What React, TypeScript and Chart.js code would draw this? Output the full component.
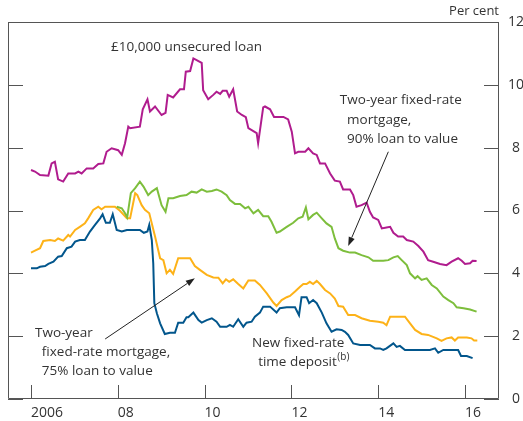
import React, { useEffect, useRef } from 'react';
import { Chart, registerables } from 'chart.js';

Chart.register(...registerables);

// x values are months since January 2006
const xTickMonths = [0, 24, 48, 72, 96, 120];
const xTickLabels = ['2006', '08', '10', '12', '14', '16'];
const yTickValues = [0, 2, 4, 6, 8, 10, 12];

const unsecuredMonths = [0,1.1,2.5,4.8,5.7,6.6,7.5,8.9,10.3,12.2,13.1,14.0,15.4,17.2,18.6,20.0,20.9,22.3,24.1,25.1,26.0,26.9,27.4,30.1,30.9,32.2,32.9,34.3,36.1,37.2,37.8,39.3,41.2,42.3,42.8,44.0,44.9,45.8,47.2,47.6,49.0,50.4,51.3,52.3,53.0,54.1,54.8,55.9,57.0,58.3,59.4,60.1,62.4,62.8,64.2,64.7,66.1,67.2,69.8,71.1,72.1,73.0,73.9,75.8,76.7,78.0,79.0,79.9,81.3,82.7,84.0,85.4,86.3,88.2,89.1,90.0,91.4,92.8,93.7,94.6,96.0,97.0,98.3,99.3,100.2,101.5,102.9,103.9,105.7,107.1,108.5,109.8,111.2,113.1,114.9,116.3,118.1,119.1,120.0,121.4,122.1,123.2];
const unsecuredRates = [7.29,7.24,7.13,7.11,7.50,7.55,6.99,6.92,7.18,7.18,7.24,7.18,7.34,7.34,7.48,7.50,7.87,7.98,7.92,7.77,8.14,8.67,8.62,8.67,9.22,9.54,9.15,9.31,9.04,9.11,9.68,9.60,9.86,9.86,10.42,10.44,10.84,10.79,10.70,9.83,9.54,9.68,9.78,9.71,9.81,9.81,9.62,9.86,9.15,9.04,8.97,8.62,8.46,8.14,9.28,9.31,9.22,8.98,8.98,8.90,8.51,7.82,7.87,7.87,7.98,7.82,7.77,7.50,7.50,7.18,6.95,6.92,6.67,6.67,6.49,6.12,6.17,6.25,5.96,5.78,5.70,5.43,5.46,5.48,5.29,5.17,5.17,5.06,5.01,4.87,4.69,4.42,4.37,4.30,4.26,4.37,4.48,4.40,4.30,4.32,4.40,4.39];

const mort90Months = [23.7,25.1,26.0,26.6,27.6,28.8,30.1,31.1,32.4,33.4,34.8,36.1,37.2,38.0,39.3,41.2,43.0,44.4,45.8,47.2,48.6,50.0,51.3,52.7,54.1,55.0,56.4,57.8,59.2,60.1,61.5,62.8,64.2,65.6,66.5,67.9,68.8,70.7,72.5,73.9,75.1,76.0,76.7,78.0,79.0,80.4,81.7,83.1,84.0,85.0,86.3,88.2,89.6,91.4,93.3,94.6,97.4,98.8,100.2,101.4,102.5,103.9,104.8,106.2,106.9,108.0,109.4,110.8,112.2,114.0,115.4,116.8,117.7,119.6,121.4,123.2];
const mort90Rates = [6.12,6.07,5.91,5.78,6.55,6.71,6.92,6.76,6.49,6.60,6.71,6.17,5.96,6.39,6.39,6.46,6.49,6.60,6.57,6.67,6.60,6.62,6.67,6.60,6.49,6.33,6.21,6.21,6.07,6.12,5.91,6.02,5.82,5.82,5.64,5.29,5.33,5.48,5.61,5.75,5.80,6.10,5.72,5.86,5.93,5.75,5.59,5.48,5.11,4.80,4.72,4.66,4.66,4.58,4.51,4.40,4.40,4.42,4.51,4.55,4.42,4.26,4.00,3.84,3.91,3.79,3.84,3.63,3.52,3.26,3.15,3.05,2.92,2.89,2.85,2.78];

const mort75Months = [0,1.1,2.5,3.4,5.3,6.6,7.5,8.9,10.3,10.8,12.2,13.5,14.9,15.8,17.2,18.6,19.5,20.5,21.8,23.2,24.6,26.5,27.4,28.8,29.4,30.6,31.5,32.7,33.4,34.3,35.7,36.6,37.5,38.4,39.3,40.7,42.1,44.0,45.3,46.7,48.6,50.4,51.8,53.0,53.9,54.8,55.9,57.3,58.7,60.1,61.9,63.3,65.2,67.0,67.9,69.3,70.7,71.6,73.0,74.4,75.3,76.2,77.1,78.0,79.0,79.9,81.3,82.7,84.0,85.0,86.3,87.7,89.6,91.4,93.7,96.0,97.4,98.3,99.3,101.5,103.4,104.8,106.2,108.0,109.8,112.2,113.5,114.9,116.3,117.2,118.1,120.5,121.8,122.5,123.4];
const mort75Rates = [4.66,4.72,4.80,5.03,5.06,5.03,5.11,5.04,5.22,5.17,5.38,5.48,5.59,5.75,6.02,6.12,6.04,6.12,6.12,6.12,5.99,5.75,5.75,6.55,6.49,6.17,6.02,5.91,5.59,5.17,4.48,4.42,4.00,4.11,3.98,4.48,4.48,4.48,4.23,4.11,3.95,3.87,3.86,3.68,3.81,3.73,3.81,3.66,3.52,3.77,3.77,3.63,3.36,3.07,2.96,3.15,3.24,3.28,3.42,3.57,3.66,3.66,3.73,3.66,3.76,3.66,3.47,3.36,3.20,2.96,2.94,2.67,2.67,2.57,2.49,2.46,2.43,2.35,2.62,2.62,2.62,2.41,2.20,2.07,2.04,1.93,1.85,1.93,1.96,1.86,1.96,1.96,1.93,1.86,1.86];

const depositMonths = [0,1.6,2.5,3.9,4.8,6.2,7.5,8.5,9.9,11.2,12.2,13.5,14.9,16.3,17.7,19.1,19.8,20.7,21.8,22.6,23.7,25.1,26.5,28.3,30.1,31.2,32.2,32.7,33.4,33.8,34.1,34.8,35.7,37.0,38.4,39.8,40.7,42.1,43.0,43.5,44.9,46.3,47.2,48.6,50.0,51.3,52.3,54.1,55.0,55.9,57.3,58.7,59.6,61.0,61.9,63.3,64.2,66.1,67.9,68.8,70.7,73.0,74.1,74.8,76.2,76.9,78.0,79.0,80.4,81.7,83.1,84.5,85.9,86.8,87.7,89.1,91.0,93.7,95.1,96.5,97.4,98.3,100.2,101.1,102.0,103.4,105.7,108.5,110.3,111.7,112.6,114.0,116.8,118.1,118.9,120.5,122.1];
const depositRates = [4.16,4.16,4.21,4.23,4.30,4.37,4.53,4.55,4.80,4.85,5.01,5.06,5.06,5.33,5.54,5.75,5.88,5.61,5.61,5.88,5.38,5.33,5.38,5.38,5.38,5.29,5.33,5.54,5.06,4.32,3.05,2.73,2.41,2.07,2.11,2.11,2.43,2.43,2.60,2.60,2.75,2.51,2.43,2.51,2.57,2.46,2.30,2.30,2.36,2.30,2.54,2.30,2.43,2.46,2.62,2.75,2.94,2.94,2.75,2.89,2.92,2.92,2.67,3.24,3.24,3.05,3.15,3.05,2.75,2.41,2.14,2.22,2.20,2.14,2.04,1.77,1.72,1.72,1.61,1.61,1.56,1.61,1.77,1.66,1.69,1.56,1.56,1.56,1.56,1.61,1.47,1.56,1.56,1.56,1.37,1.37,1.30];

// annotation anchors in data units (month, per cent)
const noteTexts = [
  { text: '£10,000 unsecured loan', m: 43.0, v: 11.2, align: 'center', sup: '' },
  { text: 'Two-year fixed-rate', m: 85.4, v: 9.52, align: 'left', sup: '' },
  { text: 'mortgage,', m: 87.4, v: 8.89, align: 'left', sup: '' },
  { text: '90% loan to value', m: 87.4, v: 8.27, align: 'left', sup: '' },
  { text: 'Two-year', m: 1.1, v: 2.1, align: 'left', sup: '' },
  { text: 'fixed-rate mortgage,', m: 3.0, v: 1.5, align: 'left', sup: '' },
  { text: '75% loan to value', m: 3.0, v: 0.89, align: 'left', sup: '' },
  { text: 'New fixed-rate', m: 61.1, v: 1.78, align: 'left', sup: '' },
  { text: 'time deposit', m: 62.8, v: 1.18, align: 'left', sup: '(b)' },
];
const noteArrows = [
  { from: [98.8, 7.87], to: [87.7, 4.87] },
  { from: [20.5, 1.91], to: [45.3, 3.84] },
];

const FONT = '"Open Sans", "Noto Sans", sans-serif';
const INK = '#333333';
const FRAME = '#555555';

function zip(xs: number[], ys: number[]) {
  const n = Math.min(xs.length, ys.length);
  const out: { x: number; y: number }[] = [];
  for (let i = 0; i < n; i++) out.push({ x: xs[i], y: ys[i] });
  return out;
}

const framePlugin = {
  id: 'frameAndNotes',
  afterDatasetsDraw(chart: any) {
    const { ctx, chartArea: a, scales } = chart;
    const xs = scales.x;
    const ys = scales.y;
    ctx.save();
    ctx.strokeStyle = FRAME;
    ctx.lineWidth = 1;
    ctx.beginPath();
    ctx.rect(Math.round(a.left) + 0.5, Math.round(a.top) + 0.5, Math.round(a.right - a.left) - 1, Math.round(a.bottom - a.top) - 1);
    ctx.stroke();
    ctx.beginPath();
    for (const v of yTickValues) {
      const y = Math.round(ys.getPixelForValue(v)) + 0.5;
      ctx.moveTo(a.left, y);
      ctx.lineTo(a.left + 15, y);
      ctx.moveTo(a.right - 15, y);
      ctx.lineTo(a.right, y);
    }
    for (const m of xTickMonths) {
      const x = Math.round(xs.getPixelForValue(m)) + 0.5;
      ctx.moveTo(x, a.bottom);
      ctx.lineTo(x, a.bottom - 14);
    }
    ctx.stroke();

    // "Per cent"
    ctx.fillStyle = INK;
    ctx.font = `13px ${FONT}`;
    ctx.textAlign = 'right';
    ctx.textBaseline = 'middle';
    ctx.fillText('Per cent', a.right, 11);

    // notes
    for (const n of noteTexts) {
      const x = xs.getPixelForValue(n.m);
      const y = ys.getPixelForValue(n.v);
      ctx.font = `13.5px ${FONT}`;
      ctx.textAlign = n.align as CanvasTextAlign;
      ctx.textBaseline = 'middle';
      ctx.fillText(n.text, x, y);
      if (n.sup) {
        const w = ctx.measureText(n.text).width;
        ctx.font = `10px ${FONT}`;
        ctx.textAlign = 'left';
        ctx.fillText(n.sup, x + w + 0.5, y - 5);
      }
    }

    // arrows
    ctx.strokeStyle = '#222222';
    ctx.fillStyle = '#222222';
    ctx.lineWidth = 1;
    for (const ar of noteArrows) {
      const x0 = xs.getPixelForValue(ar.from[0]);
      const y0 = ys.getPixelForValue(ar.from[1]);
      const x1 = xs.getPixelForValue(ar.to[0]);
      const y1 = ys.getPixelForValue(ar.to[1]);
      const ang = Math.atan2(y1 - y0, x1 - x0);
      const len = 9;
      const half = 3.2;
      const bx = x1 - len * Math.cos(ang);
      const by = y1 - len * Math.sin(ang);
      ctx.beginPath();
      ctx.moveTo(x0, y0);
      ctx.lineTo(bx, by);
      ctx.stroke();
      ctx.beginPath();
      ctx.moveTo(x1, y1);
      ctx.lineTo(bx + half * Math.sin(ang), by - half * Math.cos(ang));
      ctx.lineTo(bx - half * Math.sin(ang), by + half * Math.cos(ang));
      ctx.closePath();
      ctx.fill();
    }
    ctx.restore();
  },
};

export default function App() {
  const ref = useRef<HTMLCanvasElement | null>(null);
  useEffect(() => {
    if (!ref.current) return;
    const line = (data: any, color: string) => ({
      data,
      borderColor: color,
      backgroundColor: color,
      borderWidth: 2,
      pointRadius: 0,
      tension: 0,
      fill: false,
    });
    const chart = new Chart(ref.current, {
      type: 'line',
      data: {
        datasets: [
          line(zip(unsecuredMonths, unsecuredRates), '#B01C8E'),
          line(zip(mort90Months, mort90Rates), '#7DBE3C'),
          line(zip(mort75Months, mort75Rates), '#FDB218'),
          line(zip(depositMonths, depositRates), '#02568C'),
        ],
      },
      options: {
        animation: false,
        responsive: false,
        devicePixelRatio: 1,
        layout: { padding: { top: 22, left: 8, right: 0, bottom: 0 } },
        plugins: { legend: { display: false }, tooltip: { enabled: false }, title: { display: false } },
        scales: {
          x: {
            type: 'linear',
            min: -6.36,
            max: 129.4,
            grid: { display: false, drawTicks: false },
            border: { display: false },
            afterBuildTicks: (s: any) => {
              s.ticks = xTickMonths.map((v) => ({ value: v }));
            },
            afterFit: (s: any) => {
              s.height = 22;
            },
            ticks: {
              autoSkip: false,
              maxRotation: 0,
              align: 'start',
              padding: 6,
              color: INK,
              font: { family: FONT, size: 14 },
              callback: (_v: any, i: number) => xTickLabels[i],
            },
          },
          y: {
            type: 'linear',
            position: 'right',
            min: 0,
            max: 12,
            grid: { display: false, drawTicks: false },
            border: { display: false },
            afterBuildTicks: (s: any) => {
              s.ticks = yTickValues.map((v) => ({ value: v }));
            },
            afterFit: (s: any) => {
              s.width = 24;
            },
            ticks: {
              crossAlign: 'center',
              padding: 9,
              color: INK,
              font: { family: FONT, size: 14 },
              callback: (v: any) => String(v),
            },
          },
        },
      },
      plugins: [framePlugin],
    } as any);
    return () => chart.destroy();
  }, []);
  return (
    <div style={{ position: 'absolute', left: 0, top: 0, width: 523, height: 421, background: '#fff' }}>
      <canvas ref={ref} width={523} height={421} style={{ display: 'block' }} />
    </div>
  );
}
